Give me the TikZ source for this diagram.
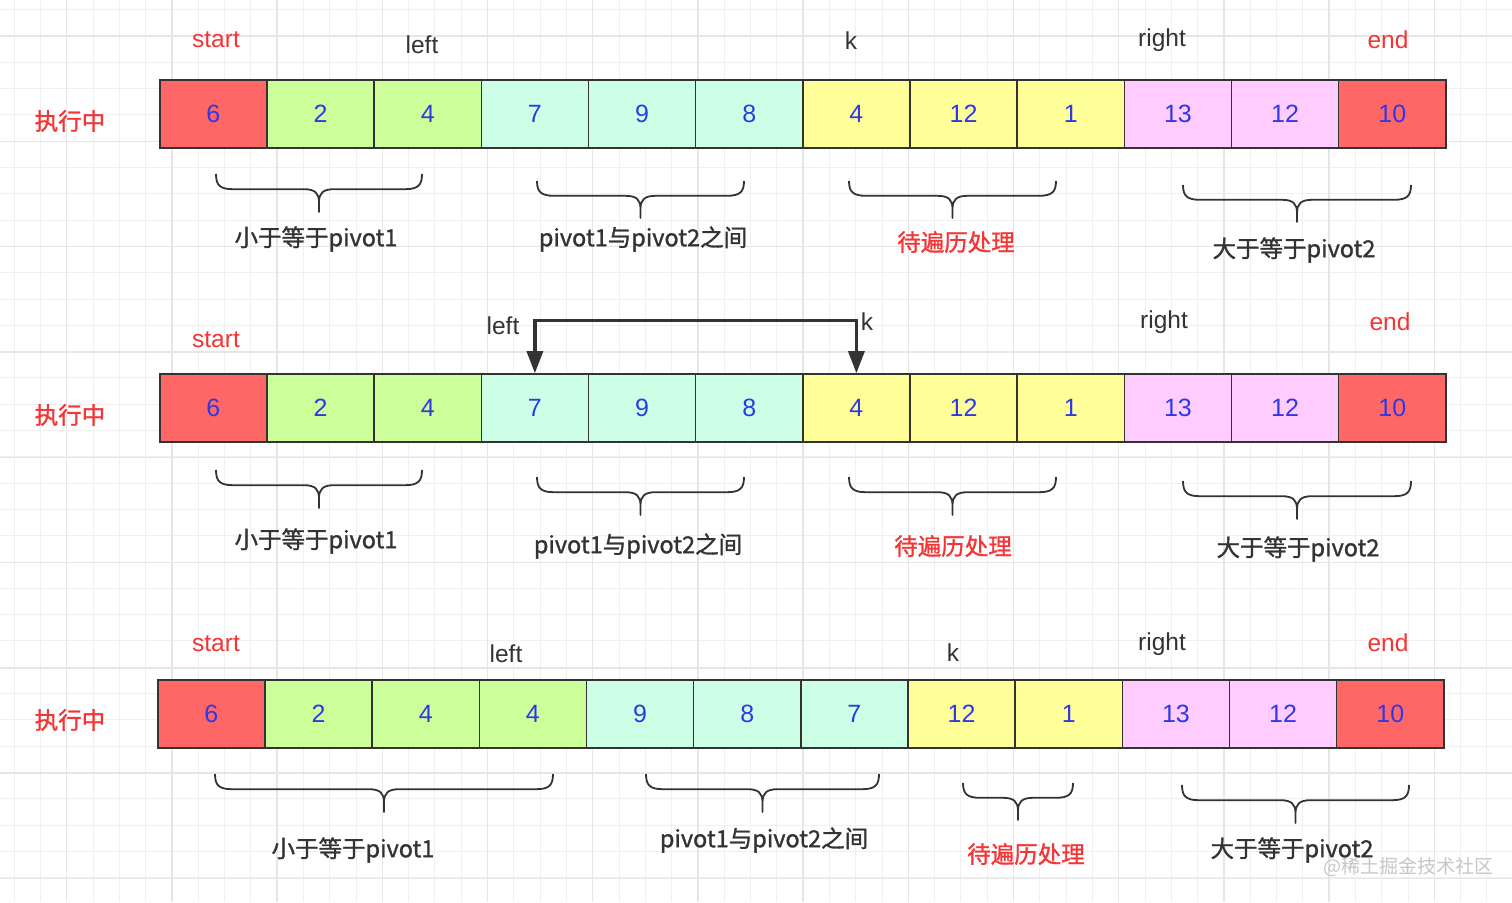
\documentclass[tikz,border=0pt]{standalone}
\usepackage{fontspec}
\setmainfont{Liberation Sans}
\newfontfamily\cjk[FakeBold=1.2]{Noto Sans CJK SC}
\newfontfamily\cjkl{Noto Sans CJK SC}
\usetikzlibrary{arrows.meta}
\definecolor{cred}{HTML}{FF6666}
\definecolor{cgreen}{HTML}{CCFF99}
\definecolor{cmint}{HTML}{CCFFE6}
\definecolor{cyellow}{HTML}{FFFF99}
\definecolor{cpink}{HTML}{FFCCFF}
\definecolor{numblue}{RGB}{48,56,228}
\definecolor{lblred}{HTML}{F53535}
\definecolor{ink}{HTML}{333333}
\definecolor{gridminor}{HTML}{F0F0F0}
\definecolor{gridmajor}{HTML}{E6E6E6}
\newcommand{\curly}[4]{%
  \pgfmathsetmacro\xm{(#1+#2)/2}%
  \pgfmathsetmacro\ym{#3+(#4-#3)*0.4}%
  \draw[bracestyle] (#1,#3) .. controls (#1,\ym-4) and (#1+4,\ym) .. (#1+17,\ym)
    -- (\xm-15,\ym) .. controls (\xm-4,\ym) and (\xm,\ym+4) .. (\xm,\ym+13) -- (\xm,#4)
    -- (\xm,\ym+13) .. controls (\xm,\ym+4) and (\xm+4,\ym) .. (\xm+15,\ym)
    -- (#2-17,\ym) .. controls (#2-4,\ym) and (#2,\ym-4) .. (#2,#3);}
\begin{document}
\begin{tikzpicture}[x=1pt,y=-1pt,
  cell/.style={draw=ink, line width=1.6pt, minimum width=107.17pt, minimum height=68pt,
    inner sep=0pt, anchor=west, text=numblue, font=\fontsize{25}{29}\selectfont},
  ptr/.style={inner sep=0pt, text=ink, font=\fontsize{24.5}{28}\selectfont},
  ptrred/.style={ptr, text=lblred},
  rowlbl/.style={inner sep=0pt, text=lblred, font=\cjk\fontsize{23.5}{27}\selectfont},
  grp/.style={inner sep=0pt, text=ink, font=\cjk\fontsize{23.5}{27}\selectfont},
  grpred/.style={grp, text=lblred},
  bracestyle/.style={draw=ink, line width=1.8pt, line join=round},
  swap/.style={draw=ink, line width=3.2pt, {Triangle[width=16pt,length=22pt]}-{Triangle[width=16pt,length=22pt]}},
  wm/.style={inner sep=0pt, text=black!22, font=\cjkl\fontsize{19}{23}\selectfont}
]
\useasboundingbox (0,0) rectangle (1512,902);
\fill[white] (0,0) rectangle (1512,902);
% grid
\foreach \k in {0,...,57} \draw[gridminor, line width=1pt] ({14.1+\k*26.3},0) -- ({14.1+\k*26.3},902);
\foreach \k in {0,...,35} \draw[gridminor, line width=1pt] (0,{9.7+\k*26.3}) -- (1512,{9.7+\k*26.3});
\foreach \k in {0,...,14} \draw[gridmajor, line width=1.4pt] ({66.7+\k*105.2},0) -- ({66.7+\k*105.2},902);
\foreach \k in {0,...,8} \draw[gridmajor, line width=1.4pt] (0,{36+\k*105.3}) -- (1512,{36+\k*105.3});

% ===== row 1 =====
\foreach \v/\c [count=\i] in {6/cred,2/cgreen,4/cgreen,7/cmint,9/cmint,8/cmint,4/cyellow,12/cyellow,1/cyellow,13/cpink,12/cpink,10/cred}
  \node[cell, fill=\c] (ra\i) at ({159+(\i-1)*107.17},114) {\v};
\node[rowlbl] (ra-lbl) at (70,121) {执行中};
\node[ptrred] (ra-start) at (216,40) {start};
\node[ptr] (ra-left) at (422,45) {left};
\node[ptr] (ra-k) at (851,41) {k};
\node[ptr] (ra-right) at (1162,40) {right};
\node[ptrred] (ra-end) at (1388,40) {end};
\curly{216}{422}{174}{212}
\curly{537}{744}{181}{218}
\curly{849}{1056}{181}{218}
\curly{1183}{1411}{185}{222}
\node[grp] (ra-g1) at (316,239) {小于等于pivot1};
\node[grp] (ra-g2) at (643,239) {pivot1与pivot2之间};
\node[grpred] (ra-g3) at (956,242) {待遍历处理};
\node[grp] (ra-g4) at (1294,250) {大于等于pivot2};

% ===== row 2 =====
\foreach \v/\c [count=\i] in {6/cred,2/cgreen,4/cgreen,7/cmint,9/cmint,8/cmint,4/cyellow,12/cyellow,1/cyellow,13/cpink,12/cpink,10/cred}
  \node[cell, fill=\c] (rb\i) at ({159+(\i-1)*107.17},408) {\v};
\node[rowlbl] (rb-lbl) at (70,415) {执行中};
\node[ptrred] (rb-start) at (216,340) {start};
\node[ptr] (rb-left) at (503,326) {left};
\node[ptr] (rb-k) at (867,322) {k};
\node[ptr] (rb-right) at (1164,322) {right};
\node[ptrred] (rb-end) at (1390,322) {end};
\draw[swap] (rb4.north) -- ++(0,-53) -| (rb7.north);
\curly{216}{422}{470}{508}
\curly{537}{744}{477}{515}
\curly{849}{1056}{477}{515}
\curly{1183}{1411}{481}{519}
\node[grp] (rb-g1) at (316,541) {小于等于pivot1};
\node[grp] (rb-g2) at (638,546) {pivot1与pivot2之间};
\node[grpred] (rb-g3) at (953,546) {待遍历处理};
\node[grp] (rb-g4) at (1298,549) {大于等于pivot2};

% ===== row 3 =====
\foreach \v/\c [count=\i] in {6/cred,2/cgreen,4/cgreen,4/cgreen,9/cmint,8/cmint,7/cmint,12/cyellow,1/cyellow,13/cpink,12/cpink,10/cred}
  \node[cell, fill=\c] (rc\i) at ({157+(\i-1)*107.17},714) {\v};
\node[rowlbl] (rc-lbl) at (70,720) {执行中};
\node[ptrred] (rc-start) at (216,644) {start};
\node[ptr] (rc-left) at (506,654) {left};
\node[ptr] (rc-k) at (953,653) {k};
\node[ptr] (rc-right) at (1162,644) {right};
\node[ptrred] (rc-end) at (1388,643) {end};
\curly{215}{553}{774}{812}
\curly{646}{879}{774}{812}
\curly{963}{1073}{783}{820}
\curly{1182}{1409}{785}{823}
\node[grp] (rc-g1) at (353,850) {小于等于pivot1};
\node[grp] (rc-g2) at (764,840) {pivot1与pivot2之间};
\node[grpred] (rc-g3) at (1026,854) {待遍历处理};
\node[grp] (rc-g4) at (1292,850) {大于等于pivot2};

\node[wm] (wmark) at (1408,867) {@稀土掘金技术社区};
\end{tikzpicture}
\end{document}
